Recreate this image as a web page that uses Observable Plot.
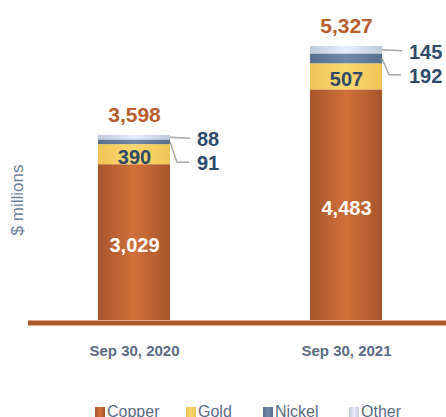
<!DOCTYPE html>
<html>
<head>
<meta charset="utf-8">
<script src="https://cdn.jsdelivr.net/npm/d3@7"></script>
<script src="https://cdn.jsdelivr.net/npm/@observablehq/plot@0.6"></script>
<style>
  html, body { margin: 0; padding: 0; background: #fff; }
  #chart svg { display: block; }
  .legend { display: flex; align-items: center; margin-top: 3px; padding-left: 95px;
    font-family: "Liberation Sans", Arial, sans-serif; font-size: 16px; color: #5b6b84; }
  .legend .item { display: flex; align-items: center; }
  .legend .sw { width: 10px; height: 10px; margin-right: 2px; flex: none; }
</style>
</head>
<body>
<div id="chart"></div>
<script>
const dates = ["Sep 30, 2020", "Sep 30, 2021"];
const metals = ["Copper", "Gold", "Nickel", "Other"];
const copper = [3029, 4483];
const gold = [390, 507];
const nickel = [91, 192];
const other = [88, 145];
const totals = [3598, 5327];
const yLabel = "$ millions";

const series = {Copper: copper, Gold: gold, Nickel: nickel, Other: other};
const gradients = {
  Copper: ["#a6552b", "#d2703a", "#a6552b"],
  Gold: ["#f1c557", "#fad86e", "#f1c557"],
  Nickel: ["#587090", "#7189a7", "#587090"],
  Other: ["#bfc9d9", "#e9eeff", "#bfc9d9"]
};
const ids = {Copper: "g-copper", Gold: "g-gold", Nickel: "g-nickel", Other: "g-other"};
const legendWidths = {Copper: 91, Gold: 77, Nickel: 86, Other: 70};

const data = [];
dates.forEach((d, i) => metals.forEach(m => data.push({date: d, metal: m, value: series[m][i]})));

const fmt = d3.format(",");
const inner = [];
dates.forEach((d, i) => {
  inner.push({date: d, y: copper[i] / 2, text: fmt(copper[i]), fill: "#ffffff"});
  inner.push({date: d, y: copper[i] + gold[i] / 2, text: fmt(gold[i]), fill: "#2e4a6b"});
});
const tops = dates.map((d, i) => ({date: d, y: totals[i], text: fmt(totals[i])}));

function leaders(index, scales) {
  const g = d3.create("svg:g");
  const bw = typeof scales.x.bandwidth === "function" ? scales.x.bandwidth() : scales.x.bandwidth;
  dates.forEach((d, i) => {
    const right = scales.x(d) + bw;
    const otherMid = scales.y(totals[i] - other[i] / 2);
    const nickelMid = scales.y(copper[i] + gold[i] + nickel[i] / 2);
    const otherLab = otherMid + 2;
    const nickelLab = Math.max(nickelMid + 16, otherLab + 24);
    g.append("path")
      .attr("d", `M${right},${otherMid}L${right + 20},${otherLab - 1}`)
      .attr("fill", "none").attr("stroke", "#a8a8a8").attr("stroke-width", 1.5);
    g.append("path")
      .attr("d", `M${right},${nickelMid}L${right + 7},${nickelLab - 1}L${right + 19},${nickelLab - 1}`)
      .attr("fill", "none").attr("stroke", "#a8a8a8").attr("stroke-width", 1.5);
    [[otherLab, other[i]], [nickelLab, nickel[i]]].forEach(([y, v]) => {
      g.append("text")
        .attr("x", right + 27).attr("y", y).attr("dy", "0.35em")
        .attr("text-anchor", "start")
        .attr("font-size", 20).attr("font-weight", "bold").attr("fill", "#2e4a6b")
        .text(fmt(v));
    });
  });
  return g.node();
}

function axisLabel(index, scales, values, dims) {
  const cy = (dims.marginTop + dims.height - dims.marginBottom) / 2;
  const t = d3.create("svg:text")
    .attr("transform", `translate(17,${cy}) rotate(-90)`)
    .attr("text-anchor", "middle").attr("dy", "0.35em")
    .attr("font-size", 17).attr("fill", "#6b7f99")
    .text(yLabel);
  return t.node();
}

const chart = Plot.plot({
  width: 446,
  height: 400,
  marginLeft: 28,
  marginRight: 0,
  marginTop: 80,
  marginBottom: 80,
  style: {fontFamily: "'Liberation Sans', Arial, sans-serif", background: "transparent"},
  x: {domain: dates, range: [98, 382.5], paddingInner: 0.661, paddingOuter: 0, align: 0.5, axis: null},
  y: {domain: [0, 5327], range: [320, 46], axis: null},
  color: {domain: metals, range: metals.map(m => `url(#${ids[m]})`)},
  marks: [
    Plot.barY(data, {x: "date", y: "value", fill: "metal"}),
    Plot.ruleY([0], {stroke: "#b0582a", strokeWidth: 5, dy: 2.5}),
    Plot.axisX({tickSize: 0, tickPadding: 25, fontSize: 15, fontWeight: "bold", fill: "#5b6b84", label: null}),
    Plot.text(inner, {x: "date", y: "y", text: "text", fill: "fill", fontSize: 20, fontWeight: "bold", dy: 3}),
    Plot.text(tops, {x: "date", y: "y", text: "text", fill: "#b85d2b", fontSize: 21, fontWeight: "bold", dy: -20}),
    axisLabel,
    leaders
  ]
});

const defs = d3.select(chart).insert("defs", ":first-child");
metals.forEach(m => {
  const lg = defs.append("linearGradient").attr("id", ids[m]).attr("x1", "0").attr("x2", "1").attr("y1", "0").attr("y2", "0");
  gradients[m].forEach((c, k) => lg.append("stop").attr("offset", k / 2).attr("stop-color", c));
});

document.getElementById("chart").appendChild(chart);

const legend = d3.select("body").append("div").attr("class", "legend");
metals.forEach(m => {
  const it = legend.append("div").attr("class", "item").style("width", legendWidths[m] + "px");
  const [a, b, c] = gradients[m];
  it.append("div").attr("class", "sw").style("background", `linear-gradient(to right, ${a}, ${b}, ${c})`);
  it.append("span").text(m);
});
</script>
</body>
</html>
